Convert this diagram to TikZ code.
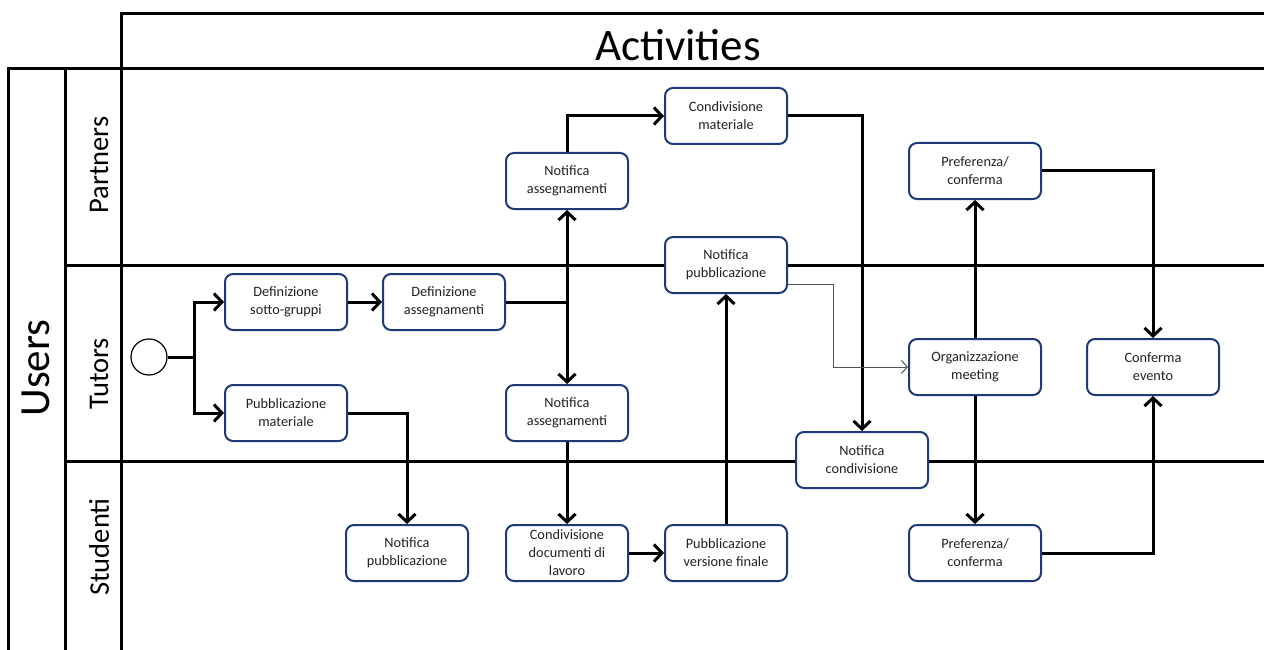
\documentclass[tikz,border=0pt]{standalone}
\usepackage{fontspec}
\setmainfont{Carlito}
\usetikzlibrary{arrows.meta}
\definecolor{boxblue}{HTML}{1F3A7A}
\definecolor{thingrey}{HTML}{555555}
\definecolor{labelgrey}{HTML}{222222}
\begin{document}
\begin{tikzpicture}[x=1pt,y=-1pt,
  lane/.style={line width=3pt, line cap=rect},
  act/.style={draw=boxblue, line width=2pt, rounded corners=8pt, fill=white,
    minimum width=122pt, minimum height=56pt, align=center, inner xsep=2pt, inner ysep=0pt,
    text=labelgrey, font=\fontsize{14.3}{18}\selectfont},
  wideact/.style={act, minimum width=132pt},
  link/.style={line width=3pt},
  flow/.style={line width=3pt, -{Straight Barb[length=8pt,width=17pt]}},
  thinflow/.style={line width=1pt, draw=thingrey, -{Straight Barb[length=6pt,width=13pt]}},
  lanetitle/.style={rotate=90, font=\fontsize{28.5}{32}\selectfont},
]
\useasboundingbox (0,0) rectangle (1264,650);

% pool and lanes
\draw[lane] (121,655) -- (121,14) -- (1270,14);
\draw[lane] (8,655) -- (8,69) -- (1270,69);
\draw[lane] (65,69) -- (65,655);
\draw[lane] (65,265) -- (1270,265);
\draw[lane] (65,461) -- (1270,461);

\node[font=\fontsize{45}{50}\selectfont] (acttitle) at (678,45) {Activities};
\node[rotate=90, font=\fontsize{43}{48}\selectfont] (users) at (36,368) {Users};
\node[lanetitle] (lpart) at (99,165) {Partners};
\node[lanetitle] (ltut) at (99,374) {Tutors};
\node[lanetitle] (lstud) at (99,547) {Studenti};

% activities
\node[circle, draw, line width=1.2pt, minimum size=36pt, inner sep=0pt, fill=white] (start) at (149,357) {};
\node[act] (ds) at (286,302) {Definizione\\sotto-gruppi};
\node[act] (da) at (444,302) {Definizione\\assegnamenti};
\node[act] (pm) at (286,413) {Pubblicazione\\materiale};
\node[act] (na1) at (567,181) {Notifica\\assegnamenti};
\node[act] (cm) at (726,116) {Condivisione\\materiale};
\node[act] (npt) at (726,265) {Notifica\\pubblicazione};
\node[act] (na2) at (567,413) {Notifica\\assegnamenti};
\node[wideact] (nc) at (862,460) {Notifica\\condivisione};
\node[wideact] (om) at (975,367) {Organizzazione\\meeting};
\node[wideact] (pt) at (975,171) {Preferenza/\\conferma};
\node[wideact] (ce) at (1153,367) {Conferma\\evento};
\node[act] (nps) at (407,553) {Notifica\\pubblicazione};
\node[act] (cd) at (567,553) {Condivisione\\documenti di\\lavoro};
\node[act] (pv) at (726,553) {Pubblicazione\\versione finale};
\node[wideact] (pb) at (975,553) {Preferenza/\\conferma};

% flows
\coordinate (fork) at (194,357);
\draw[link] (start) -- (fork);
\draw[flow] (fork) |- (ds.west);
\draw[flow] (fork) |- (pm.west);
\draw[flow] (ds) -- (da);
\coordinate (split) at (na1.south |- da.east);
\draw[link] (da.east) -- (split);
\draw[flow] (split) -- (na1.south);
\draw[flow] (split) -- (na2.north);
\draw[flow] (na1.north) |- (cm.west);
\draw[flow] (cm.east) -| (nc.north);
\draw[flow] (pm.east) -| (nps.north);
\draw[flow] (na2) -- (cd);
\draw[flow] (cd) -- (pv);
\draw[flow] (pv) -- (npt);
\coordinate (bend) at (833,284);
\draw[thinflow] ([yshift=-19pt]npt.east) -- (bend) |- (om.west);
\draw[flow] (om) -- (pt);
\draw[flow] (om) -- (pb);
\draw[flow] (pt.east) -| (ce.north);
\draw[flow] (pb.east) -| (ce.south);
\end{tikzpicture}
\end{document}
